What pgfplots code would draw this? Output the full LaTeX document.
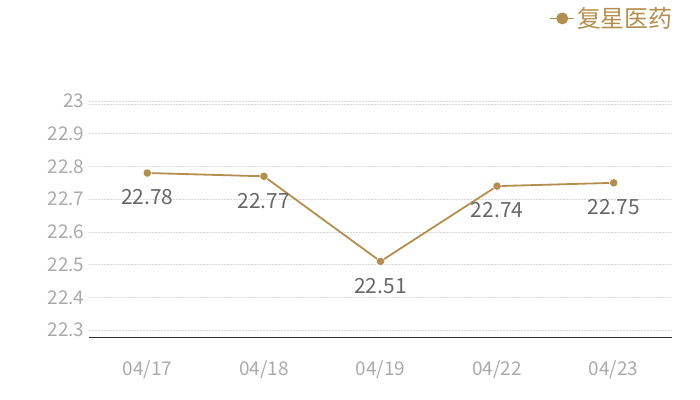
\documentclass[border=0pt]{standalone}
\usepackage{fontspec}
\setmainfont{Noto Sans CJK SC}
\usepackage{pgfplots}
\pgfplotsset{compat=1.18}
\definecolor{gold}{RGB}{180,142,78}
\definecolor{tickgrey}{RGB}{170,170,170}
\definecolor{labgrey}{RGB}{102,102,102}
\definecolor{gridgrey}{RGB}{215,215,215}
\begin{document}
\begin{tikzpicture}[x=1bp,y=1bp]
\begin{axis}[
  at={(89bp,-101bp)}, anchor=north west,
  scale only axis, width=583bp, height=236bp,
  xmin=-0.5, xmax=4.5, ymin=22.279, ymax=23,
  xtick={0,1,2,3,4},
  xticklabels={04/17,04/18,04/19,04/22,04/23},
  ytick={22.3,22.4,22.5,22.6,22.7,22.8,22.9,23},
  yticklabels={22.3,22.4,22.5,22.6,22.7,22.8,22.9,23},
  extra y ticks={22.991}, extra y tick labels={},
  extra y tick style={grid=major, major grid style={gridgrey, dash pattern=on 2bp off 1bp, line width=0.6bp}},
  ymajorgrids,
  major grid style={gridgrey, dash pattern=on 2bp off 1bp, line width=0.6bp},
  axis line style={draw=none},
  axis x line*=bottom, axis y line*=left,
  x axis line style={draw=black!80, line width=0.8bp},
  y axis line style={draw=none},
  major tick length=0pt,
  tick style={draw=none},
  ticklabel style={font=\fontsize{19}{22}\selectfont, text=tickgrey},
  yticklabel style={xshift=-1bp},
  xticklabel style={yshift=-20bp},
  /pgf/number format/assume math mode=true,
  legend style={draw=none, fill=none, at={(1.005,1.35)}, anchor=east,
    font=\fontsize{24}{26}\selectfont, text=gold, inner sep=0pt},
  legend image code/.code={
    \draw[gold, line width=1.2bp] (-0.2cm,0cm) -- (0.65cm,0cm);
    \fill[gold] (0.22cm,0cm) circle (5bp);
  },
  clip=false,
  nodes near coords,
  point meta=explicit symbolic,
  every node near coord/.append style={font=\fontsize{21}{24}\selectfont, text=labgrey, anchor=north, yshift=-13bp},
]
\addplot[gold, line width=1.8bp, mark=*, mark size=4.2bp, mark options={fill=gold, draw=white, line width=0.5bp}]
  coordinates {(0,22.78)[22.78] (1,22.77)[22.77] (2,22.51)[22.51] (3,22.74)[22.74] (4,22.75)[22.75]};
\addlegendentry{复星医药}
\end{axis}
\pgfresetboundingbox
\useasboundingbox (0,0) rectangle (700bp,-400bp);
\end{tikzpicture}
\end{document}
